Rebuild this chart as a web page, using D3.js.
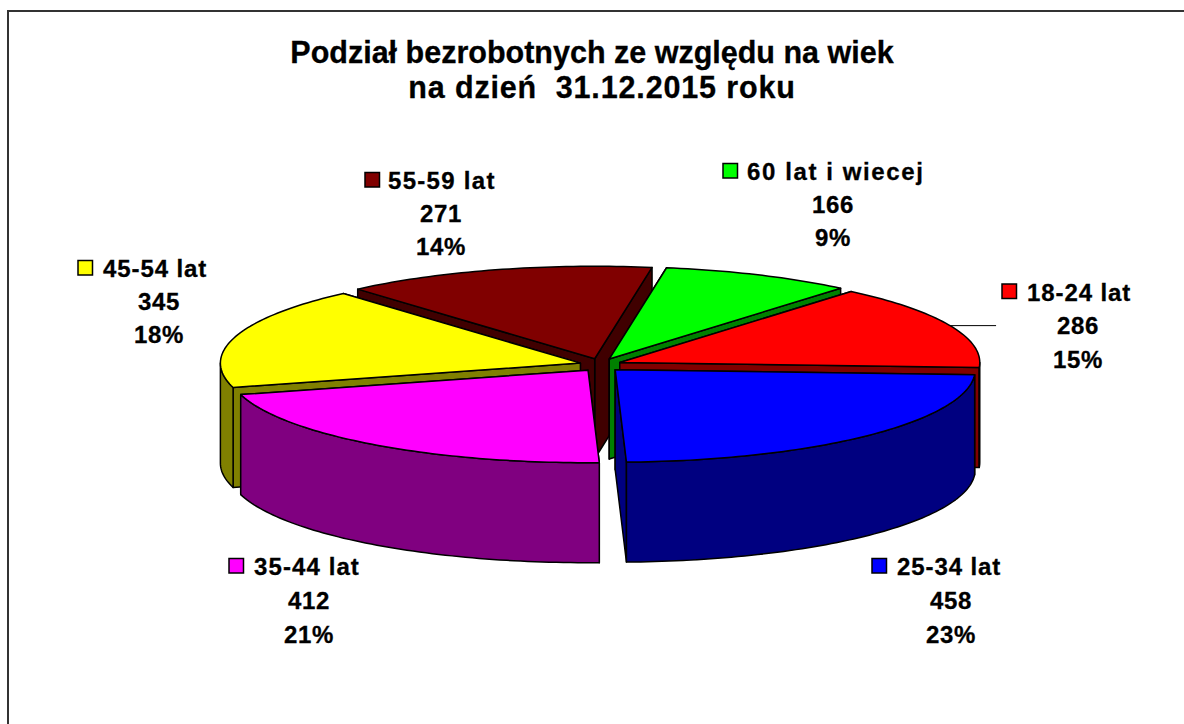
<!DOCTYPE html>
<html>
<head>
<meta charset="utf-8">
<script src="https://cdn.jsdelivr.net/npm/d3@7"></script>
<style>
    html, body { margin: 0; padding: 0; background: #fff; overflow: hidden; }
    text { font-family: "Liberation Sans", Arial, sans-serif; font-weight: bold; fill: #000; stroke: #000; stroke-width: 0.3px; }
</style>
</head>
<body>
<script>
/* Values */
var categories = ["18-24 lat", "25-34 lat", "35-44 lat", "45-54 lat", "55-59 lat", "60 lat i wiecej"];
var values = [286, 458, 412, 345, 271, 166];
var percents = ["15%", "23%", "21%", "18%", "14%", "9%"];
var titleLines = ["Podział bezrobotnych ze względu na wiek", "na dzień  31.12.2015 roku"];

/* Colours: top of the slice and its darker side */
var topColors = ["#ff0000", "#0000ff", "#ff00ff", "#ffff00", "#800000", "#00ff00"];
var sideColors = ["#800000", "#000080", "#800080", "#808000", "#400000", "#008000"];

/* Label layout, same order as the categories */
var labelX = [1078, 951, 309, 159, 441, 833];
var labelY = [300.5, 575, 575, 277, 189, 180];
var labelLine = [33.5, 34, 34, 33, 33, 33];
var labelSpacing = [0.9, 0.9, 1.1, 0.9, 1.3, 1.6];
var nameX = [1027, 897, 254, 103, 388, 747];
var keyX = [1002, 872, 229, 78, 365, 723];
var titleX = [592, 602];
var titleY = [63, 98];
var titleSpacing = [0, 0.85];

var w = 1184;
var h = 724;
var cx = 600.5;
var cy = 365;
var rx = 360;
var ry = 92.5;
var depth = 100;
var explodeX = 21;
var explodeY = 6.5;
var startAngle = 40 * Math.PI / 180;

var svg = d3.select("body")
    .append("svg")
    .attr("width", w)
    .attr("height", h)
    .style("display", "block");

// frame runs off the right and bottom of the picture
svg.append("path")
    .attr("d", "M8," + (h + 2) + "V11H" + (w + 2))
    .attr("fill", "none")
    .attr("stroke", "#333")
    .attr("stroke-width", 2);

svg.selectAll(".title")
    .data(titleLines)
    .enter()
    .append("text")
    .attr("class", "title")
    .attr("x", function(d, i){ return titleX[i]; })
    .attr("y", function(d, i){ return titleY[i]; })
    .attr("text-anchor", "middle")
    .attr("font-size", 30.5)
    .style("white-space", "pre")
    .style("letter-spacing", function(d, i){ return titleSpacing[i] + "px"; })
    .text(function(d){ return d; });

var slices = d3.pie()
    .sort(null)
    .startAngle(startAngle)
    .endAngle(startAngle + 2 * Math.PI)(values);

// pie angle to screen position, on the flattened circle
function project(slice, angle, radius){
    var mid = (slice.startAngle + slice.endAngle) / 2;
    return [
        cx + explodeX * Math.sin(mid) + radius * rx * Math.sin(angle),
        cy - explodeY * Math.cos(mid) - radius * ry * Math.cos(angle)
    ];
}

function arcPoints(slice, a0, a1){
    var steps = Math.max(2, Math.ceil((a1 - a0) / 0.02));
    return d3.range(steps + 1).map(function(i){
        return project(slice, a0 + (a1 - a0) * i / steps, 1);
    });
}

function lower(p){
    return [p[0], p[1] + depth];
}

var line = d3.line();

function closed(points){
    return line(points) + "Z";
}

// back slices first so the front ones paint over them
var order = slices.slice().sort(function(a, b){
    return Math.cos((b.startAngle + b.endAngle) / 2) - Math.cos((a.startAngle + a.endAngle) / 2);
});

var pieces = svg.selectAll(".slice")
    .data(order)
    .enter()
    .append("g")
    .attr("class", "slice")
    .attr("stroke", "#000")
    .attr("stroke-width", 1.5)
    .attr("stroke-linejoin", "round");

pieces.each(function(d){
    var g = d3.select(this);
    var apex = project(d, 0, 0);
    var side = sideColors[d.index];

    // cut faces, the one with the higher rim point goes first
    [d.startAngle, d.endAngle]
        .map(function(a){ return project(d, a, 1); })
        .sort(function(p, q){ return p[1] - q[1]; })
        .forEach(function(rim){
            g.append("path")
                .attr("d", closed([apex, rim, lower(rim), lower(apex)]))
                .attr("fill", side);
        });

    // outer wall only shows on the front half of the pie
    var frontStart = Math.PI / 2;
    var frontEnd = 3 * Math.PI / 2;
    var a0 = Math.max(d.startAngle, frontStart);
    var a1 = Math.min(d.endAngle, frontEnd);
    if(a1 > a0){
        var rimPoints = arcPoints(d, a0, a1);
        g.append("path")
            .attr("d", closed(rimPoints.concat(rimPoints.map(lower).reverse())))
            .attr("fill", side);
    }

    g.append("path")
        .attr("d", closed([apex].concat(arcPoints(d, d.startAngle, d.endAngle))))
        .attr("fill", topColors[d.index]);
});

// leader line of the first label, from the middle of its rim
var first = slices[0];
var leaderStart = project(first, (first.startAngle + first.endAngle) / 2, 1);
svg.append("line")
    .attr("x1", leaderStart[0])
    .attr("y1", leaderStart[1])
    .attr("x2", leaderStart[0] + 46)
    .attr("y2", leaderStart[1])
    .attr("stroke", "#000")
    .attr("stroke-width", 1);

var labels = svg.selectAll(".label")
    .data(categories)
    .enter()
    .append("g")
    .attr("class", "label")
    .attr("font-size", 24);

labels.append("rect")
    .attr("x", function(d, i){ return keyX[i]; })
    .attr("y", function(d, i){ return labelY[i] - 16.5; })
    .attr("width", 14.5)
    .attr("height", 14.5)
    .attr("fill", function(d, i){ return topColors[i]; })
    .attr("stroke", "#000")
    .attr("stroke-width", 1.5);

labels.append("text")
    .attr("x", function(d, i){ return nameX[i]; })
    .attr("y", function(d, i){ return labelY[i]; })
    .style("letter-spacing", function(d, i){ return labelSpacing[i] + "px"; })
    .text(function(d){ return d; });

labels.append("text")
    .attr("x", function(d, i){ return labelX[i]; })
    .attr("y", function(d, i){ return labelY[i] + labelLine[i]; })
    .attr("text-anchor", "middle")
    .style("letter-spacing", "0.6px")
    .text(function(d, i){ return values[i]; });

labels.append("text")
    .attr("x", function(d, i){ return labelX[i]; })
    .attr("y", function(d, i){ return labelY[i] + 2 * labelLine[i]; })
    .attr("text-anchor", "middle")
    .style("letter-spacing", "0.6px")
    .text(function(d, i){ return percents[i]; });
</script>
</body>
</html>
